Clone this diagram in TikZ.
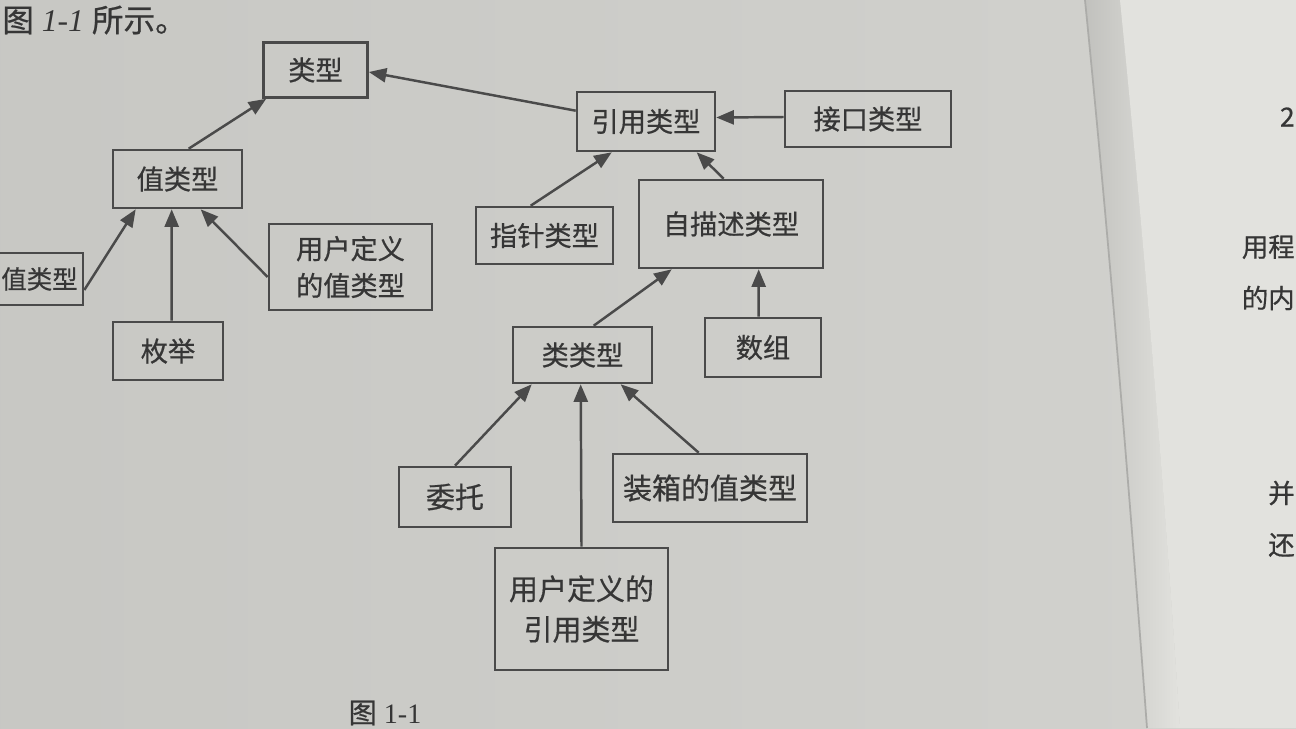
\documentclass[tikz,border=0pt]{standalone}
\usepackage{fontspec}
\setmainfont{Liberation Serif}
\newfontfamily\cjk[FakeBold=0.6]{Noto Sans CJK SC}
\usetikzlibrary{arrows.meta,calc}
\definecolor{paper}{HTML}{D2D2CE}
\definecolor{paperR}{HTML}{E2E2DE}
\definecolor{ink}{HTML}{363636}
\definecolor{linec}{HTML}{4A4A4A}
\tikzset{
  box/.style={draw=linec, line width=1.5pt, rectangle, inner sep=0pt, align=center,
    text=ink, font=\cjk\fontsize{15.5}{21}\selectfont},
  conn/.style={draw=linec, line width=1.4pt, -{Triangle[length=10pt,width=8pt]}},
  captext/.style={text=ink, inner sep=0pt},
}
\begin{document}
\begin{tikzpicture}[x=0.02cm,y=-0.02cm]
\useasboundingbox (0,0) rectangle (1296,728);
\clip (0,0) rectangle (1296,728);
% background paper
\shade[left color=paper!95!black, right color=paper] (0,0) rectangle (1296,728);
\shade[left color=paper!92!black, right color=paperR]
  (1085,0) .. controls (1110,250) and (1130,500) .. (1147,728) -- (1180,728) .. controls (1165,500) and (1145,250) .. (1120,0) -- cycle;
\fill[paperR] (1120,0) .. controls (1145,250) and (1165,500) .. (1180,728) -- (1296,728) -- (1296,0) -- cycle;
\draw[color=paper!82!black, line width=1.0pt] (1085,0) .. controls (1110,250) and (1130,500) .. (1147,728);

% nodes
\node[box, minimum width=2.08cm, minimum height=1.10cm] (lx) at (315.5,70) {类型};
\node[box, minimum width=2.58cm, minimum height=1.16cm] (zhi) at (177.5,179) {值类型};
\node[box, minimum width=1.74cm, minimum height=1.04cm, font=\cjk\fontsize{14.5}{20}\selectfont] (zleft) at (39.5,279) {值类型};
\node[box, minimum width=3.26cm, minimum height=1.72cm] (yhz) at (350.5,267) {用户定义\\的值类型};
\node[box, minimum width=2.20cm, minimum height=1.16cm] (mj) at (168,351) {枚举};
\node[box, minimum width=2.76cm, minimum height=1.18cm] (yy) at (646,121.5) {引用类型};
\node[box, minimum width=3.32cm, minimum height=1.12cm] (jk) at (868,119) {接口类型};
\node[box, minimum width=2.74cm, minimum height=1.14cm] (zz) at (544.5,235.5) {指针类型};
\node[box, minimum width=3.68cm, minimum height=1.76cm] (zms) at (731,224) {自描述类型};
\node[box, minimum width=2.78cm, minimum height=1.12cm] (llx) at (582.5,355) {类类型};
\node[box, minimum width=2.32cm, minimum height=1.18cm] (sz) at (763,347.5) {数组};
\node[box, minimum width=2.24cm, minimum height=1.20cm, font=\cjk\fontsize{16.5}{22}\selectfont] (wt) at (455,497) {委托};
\node[box, minimum width=3.88cm, minimum height=1.36cm, font=\cjk\fontsize{16.5}{22}\selectfont] (zx) at (710,488) {装箱的值类型};
\node[box, minimum width=3.46cm, minimum height=2.44cm, font=\cjk\fontsize{16.5}{23}\selectfont] (yhy) at (581.5,609) {用户定义的\\引用类型};

% connectors
\draw[conn] ($(zhi.north west)+(77,0)$) -- ($(lx.south west)+(4,0)$);
\draw[conn] ($(yy.north west)+(0,20)$) -- ($(lx.east)+(0,2)$);
\draw[conn] ($(jk.west)+(0,-2)$) -- ($(yy.east)+(0,-4)$);
\draw[conn] ($(zz.north west)+(56,0)$) -- ($(yy.south west)+(36,0)$);
\draw[conn] ($(zms.north west)+(86,0)$) -- ($(yy.south west)+(121,0)$);
\draw[conn] ($(llx.north west)+(82,0)$) -- ($(zms.south west)+(34,0)$);
\draw[conn] ($(sz.north west)+(55,0)$) -- ($(zms.south west)+(121,0)$);
\draw[conn] (wt.north) -- ($(llx.south west)+(20,0)$);
\draw[conn] (yhy.north) -- ($(llx.south west)+(69,0)$);
\draw[conn] ($(zx.north west)+(87,0)$) -- ($(llx.south west)+(109,0)$);
\draw[conn] ($(zleft.east)+(0,11)$) -- ($(zhi.south west)+(24,0)$);
\draw[conn] ($(mj.north west)+(60,0)$) -- ($(zhi.south west)+(60,0)$);
\draw[conn] ($(yhz.west)+(0,10)$) -- ($(zhi.south west)+(89,0)$);

% captions
\node[captext, anchor=west, font=\fontsize{18}{20}\selectfont] (captop) at (2,20) {{\cjk 图} \textit{1-1} {\cjk 所示。}};
\node[captext, font=\fontsize{16}{18}\selectfont] (capbot) at (385,713) {{\cjk 图} 1-1};

% right page fragments
\node[captext, anchor=east, font=\cjk\fontsize{15}{17}\selectfont] (r1) at (1295,117) {2};
\node[captext, anchor=east, font=\cjk\fontsize{15}{17}\selectfont] (r2) at (1295,247) {用程};
\node[captext, anchor=east, font=\cjk\fontsize{15}{17}\selectfont] (r3) at (1295,298) {的内};
\node[captext, anchor=east, font=\cjk\fontsize{15}{17}\selectfont] (r4) at (1295,493) {并};
\node[captext, anchor=east, font=\cjk\fontsize{15}{17}\selectfont] (r5) at (1295,545) {还};
\end{tikzpicture}
\end{document}
